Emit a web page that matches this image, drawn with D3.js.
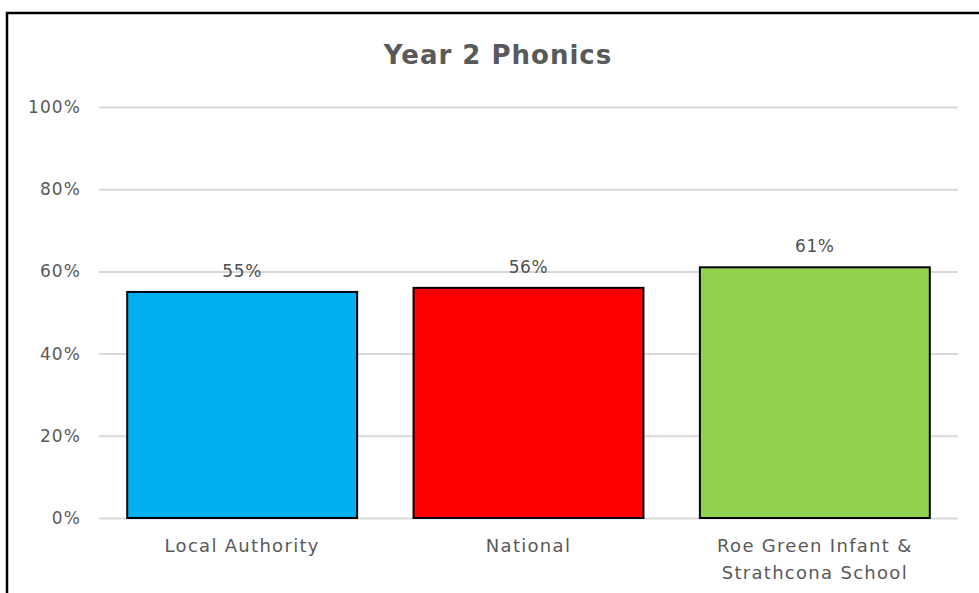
<!DOCTYPE html>
<html><head><meta charset="utf-8">
<script src="https://cdn.jsdelivr.net/npm/d3@7"></script>
<style>body{margin:0;background:#fff;} svg{display:block;}</style>
</head><body>
<script>
const categories = ["Local Authority", "National", "Roe Green Infant & Strathcona School"];
const categoryLines = [["Local Authority"], ["National"], ["Roe Green Infant &", "Strathcona School"]];
const values = [0.55, 0.56, 0.61];
const colors = ["#00B0F0", "#FF0000", "#92D050"];
const yTicks = [0, 0.2, 0.4, 0.6, 0.8, 1.0];
const title = "Year 2 Phonics";

(function () {
const W = 979, H = 593;
const font = "'DejaVu Sans', sans-serif";
const svg = d3.select("body").append("svg").attr("width", W).attr("height", H);
svg.append("rect").attr("width", W).attr("height", H).attr("fill", "#fff");
svg.append("rect").attr("x", 7).attr("y", 13).attr("width", W + 10).attr("height", H + 10)
  .attr("fill", "none").attr("stroke", "#000").attr("stroke-width", 2.5);

const pL = 99, pR = 958, pT = 107, pB = 518;
const x = d3.scaleBand().domain(categories).range([pL, pR]).paddingInner(0.197).paddingOuter(0.0985);
const y = d3.scaleLinear().domain([0, 1]).range([pB, pT]);

svg.append("text").attr("x", 498).attr("y", 64).attr("text-anchor", "middle")
  .attr("font-family", font).attr("font-weight", "bold").attr("font-size", 26)
  .attr("letter-spacing", 1).attr("fill", "#595959").text(title);

const yAxis = d3.axisLeft(y).tickValues(yTicks).tickSize(-(pR - pL)).tickFormat(d3.format(".0%")).tickPadding(18);
const g = svg.append("g").attr("transform", `translate(${pL},0)`).call(yAxis);
g.select(".domain").remove();
g.selectAll(".tick line").attr("stroke", "#d9d9d9").attr("stroke-width", 2).attr("x1", 0).attr("x2", pR - pL);
g.selectAll(".tick text").attr("font-family", font).attr("font-size", 17)
  .attr("letter-spacing", 1.1).attr("fill", "#595959");

svg.selectAll("rect.bar").data(values).enter().append("rect").attr("class", "bar")
  .attr("x", (d, i) => x(categories[i])).attr("width", x.bandwidth())
  .attr("y", d => y(d)).attr("height", d => pB - y(d))
  .attr("fill", (d, i) => colors[i]).attr("stroke", "#000").attr("stroke-width", 2);

svg.selectAll("text.val").data(values).enter().append("text").attr("class", "val")
  .attr("x", (d, i) => x(categories[i]) + x.bandwidth() / 2).attr("y", d => y(d) - 15)
  .attr("text-anchor", "middle").attr("font-family", font).attr("font-size", 17)
  .attr("letter-spacing", 0.6).attr("fill", "#505050")
  .text(d => d3.format(".0%")(d));

categories.forEach((c, i) => {
  const t = svg.append("text").attr("text-anchor", "middle").attr("font-family", font)
    .attr("font-size", 18).attr("letter-spacing", 1.3).attr("fill", "#595959");
  categoryLines[i].forEach((ln, j) => {
    t.append("tspan").attr("x", x(c) + x.bandwidth() / 2).attr("y", 552 + j * 27).text(ln);
  });
});
})();
</script>
</body></html>
